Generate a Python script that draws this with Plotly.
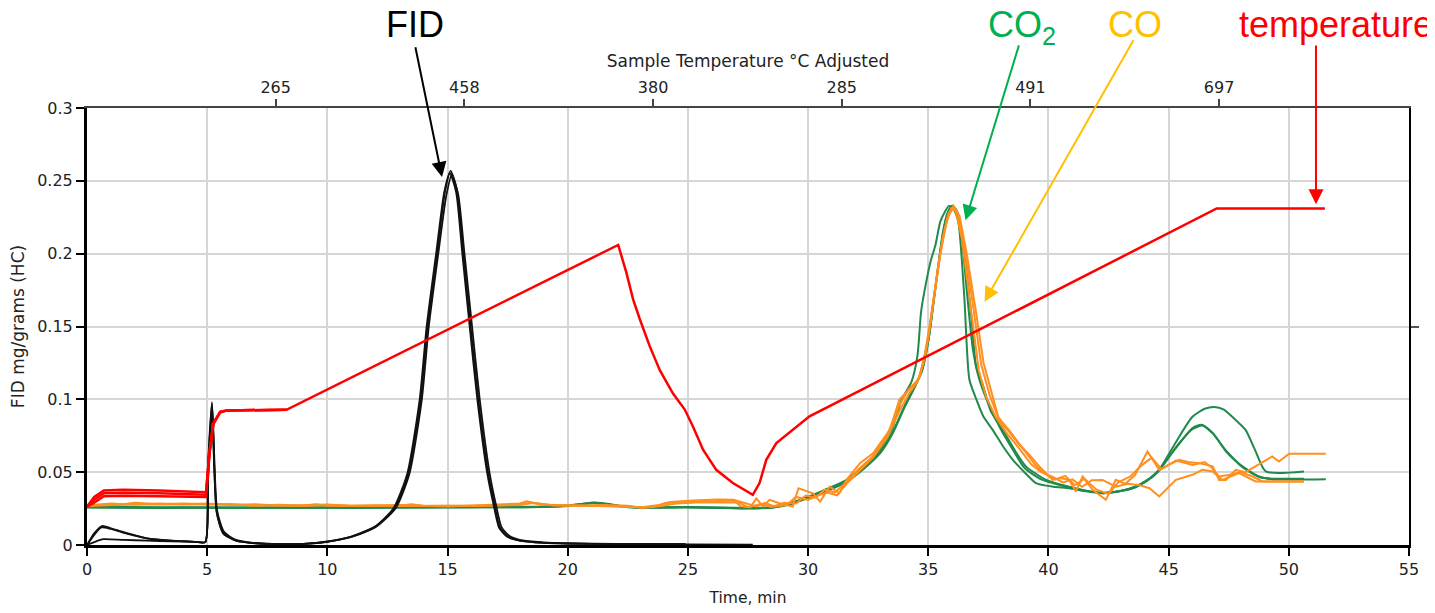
import plotly.graph_objects as go

# ---------------- data ----------------
TOP_TICK_POS = [7.85, 15.7, 23.55, 31.4, 39.25, 47.1]
TOP_TICK_TEXT = ["265", "458", "380", "285", "491", "697"]

# FID (black), three runs: (time, value)
FID_RUN1 = [(0, 0), (0.3, 0.008), (0.62, 0.013), (1.0, 0.0115), (1.5, 0.009), (2.5, 0.0046),
            (3.5, 0.003), (4.5, 0.0022), (4.92, 0.002), (5.03, 0.05), (5.2, 0.098), (5.4, 0.022),
            (5.68, 0.008), (6.2, 0.003), (7, 0.0012), (8, 0.0006), (9, 0.0008), (10, 0.0023),
            (11, 0.0057), (12, 0.0126), (12.8, 0.0254), (13.37, 0.0493), (13.88, 0.0998),
            (14.17, 0.15), (14.57, 0.2007), (14.9, 0.243), (15.13, 0.2569), (15.4, 0.243),
            (15.65, 0.2007), (15.96, 0.15), (16.28, 0.0998), (16.69, 0.0493), (16.97, 0.0264),
            (17.18, 0.012), (17.5, 0.006), (18, 0.003), (19, 0.0015), (20, 0.001), (22, 0.0007),
            (24.9, 0.0005)]
FID_RUN2 = [(0, 0), (0.3, 0.002), (0.68, 0.004), (1.5, 0.0035), (2.5, 0.003), (3.5, 0.0025),
            (4.5, 0.0022), (4.92, 0.002), (5.04, 0.045), (5.21, 0.095), (5.41, 0.024), (5.7, 0.009),
            (6.2, 0.0035), (7, 0.0013), (8, 0.0006), (9, 0.0008), (10, 0.0022), (11, 0.0055),
            (12, 0.0122), (12.85, 0.0254), (13.42, 0.0493), (13.93, 0.0998), (14.22, 0.15),
            (14.62, 0.2007), (14.95, 0.24), (15.18, 0.2545), (15.45, 0.24), (15.7, 0.2007),
            (16.02, 0.15), (16.34, 0.0998), (16.75, 0.0493), (17.03, 0.0264), (17.24, 0.0125),
            (17.55, 0.0065), (18, 0.0035), (19, 0.0018), (20, 0.0012), (22, 0.0008), (25, 0.0004),
            (27.7, 0.0003)]
FID_RUN3 = [(0, 0), (0.3, 0.007), (0.6, 0.012), (1.0, 0.011), (1.5, 0.0085), (2.5, 0.0045),
            (3.5, 0.003), (4.5, 0.0022), (4.92, 0.002), (5.02, 0.05), (5.19, 0.097), (5.39, 0.023),
            (5.66, 0.008), (6.2, 0.003), (7, 0.0012), (8, 0.0006), (9, 0.0008), (10, 0.0024),
            (11, 0.0058), (12, 0.0128), (12.76, 0.0254), (13.33, 0.0493), (13.84, 0.0998),
            (14.13, 0.15), (14.53, 0.2007), (14.86, 0.242), (15.09, 0.2555), (15.36, 0.242),
            (15.61, 0.2007), (15.92, 0.15), (16.24, 0.0998), (16.65, 0.0493), (16.93, 0.0264),
            (17.14, 0.012), (17.45, 0.006), (18, 0.003), (19, 0.0015), (20, 0.001), (22, 0.0007),
            (24.9, 0.0005)]

# CO2 (green), three runs
CO2_RUN1 = [(0, 0.026), (2, 0.0255), (4, 0.0255), (6, 0.0255), (8, 0.0255), (10, 0.0255),
            (12, 0.0255), (14, 0.026), (16, 0.026), (18, 0.026), (19.5, 0.0265), (20.5, 0.028),
            (21.1, 0.0292), (21.8, 0.028), (22.5, 0.026), (23.5, 0.0255), (24.5, 0.026),
            (25.5, 0.026), (26.5, 0.0255), (27.5, 0.025), (28.5, 0.026), (29.3, 0.029),
            (30.2, 0.0344), (31.0, 0.040), (31.6, 0.0447), (32.3, 0.054), (32.98, 0.0654),
            (33.5, 0.08), (33.9, 0.1), (34.3, 0.112), (34.55, 0.13), (34.7, 0.16), (34.85, 0.175),
            (35.1, 0.195), (35.3, 0.206), (35.5, 0.222), (35.7, 0.229), (35.86, 0.2328),
            (36.05, 0.231), (36.25, 0.222), (36.5, 0.17), (36.71, 0.1136), (37.0, 0.1),
            (37.3, 0.088), (37.68, 0.079), (38.1, 0.068), (38.52, 0.0585), (39.0, 0.05),
            (39.48, 0.0425), (40.2, 0.04), (40.86, 0.0389), (41.5, 0.037), (42.25, 0.0356),
            (43.0, 0.037), (43.6, 0.0395), (44.05, 0.0436), (44.6, 0.0516), (45.3, 0.0665),
            (45.99, 0.0803), (46.38, 0.0826), (46.83, 0.0768), (47.38, 0.065), (48.07, 0.054),
            (48.76, 0.047), (49.31, 0.0452), (51.54, 0.0452)]
CO2_RUN2 = [(0, 0.0262), (3, 0.026), (6, 0.0258), (9, 0.0258), (12, 0.026), (15, 0.026),
            (18, 0.0262), (20, 0.027), (21.1, 0.029), (22, 0.0272), (23, 0.026), (25, 0.026),
            (27, 0.0255), (28.5, 0.0258), (29.3, 0.0285), (30.2, 0.0338), (31.0, 0.039),
            (31.6, 0.044), (32.3, 0.053), (33.0, 0.064), (33.5, 0.077), (34.0, 0.095),
            (34.4, 0.108), (34.7, 0.118), (35.0, 0.14), (35.2, 0.165), (35.4, 0.19), (35.6, 0.214),
            (35.8, 0.228), (36.0, 0.233), (36.2, 0.229), (36.4, 0.215), (36.57, 0.19),
            (36.78, 0.1595), (36.99, 0.1227), (37.27, 0.11), (37.6, 0.092), (38.1, 0.079),
            (38.6, 0.065), (39.06, 0.054), (39.9, 0.0447), (40.86, 0.040), (41.5, 0.0375),
            (42.25, 0.0356), (43.0, 0.037), (43.6, 0.040), (44.1, 0.0445), (44.6, 0.0516),
            (45.3, 0.0706), (45.99, 0.088), (46.5, 0.0935), (46.9, 0.0948), (47.3, 0.093),
            (47.65, 0.088), (48.2, 0.079), (48.6, 0.065), (49.04, 0.0505), (50.63, 0.0505)]
CO2_RUN3 = [(0, 0.0258), (3, 0.0256), (6, 0.0256), (9, 0.0256), (12, 0.0258), (15, 0.0258),
            (18, 0.026), (20, 0.0268), (21.1, 0.0288), (22, 0.027), (23, 0.0258), (25, 0.0258),
            (27, 0.0252), (28.5, 0.0256), (29.3, 0.0282), (30.2, 0.0335), (31.0, 0.0385),
            (31.6, 0.0435), (32.3, 0.052), (33.0, 0.063), (33.5, 0.076), (34.0, 0.094),
            (34.4, 0.107), (34.75, 0.12), (35.05, 0.145), (35.25, 0.17), (35.45, 0.195),
            (35.65, 0.217), (35.85, 0.229), (36.0, 0.2325), (36.2, 0.228), (36.4, 0.21),
            (36.6, 0.175), (36.85, 0.135), (37.1, 0.115), (37.5, 0.097), (38.0, 0.08),
            (38.5, 0.066), (39.0, 0.053), (39.7, 0.045), (40.5, 0.041), (41.5, 0.0375),
            (42.25, 0.0358), (43.0, 0.037), (43.6, 0.0398), (44.1, 0.044), (44.6, 0.051),
            (45.3, 0.067), (45.99, 0.0795), (46.4, 0.082), (46.85, 0.0765), (47.4, 0.064),
            (48.1, 0.053), (48.8, 0.0465), (49.3, 0.0455), (50.63, 0.0455)]

# CO (orange), three runs
CO_RUN1 = [(0, 0.027), (0.5, 0.028), (1, 0.0285), (1.5, 0.028), (2, 0.029), (3, 0.028),
           (4, 0.0285), (5, 0.028), (6, 0.028), (7, 0.027), (8, 0.0275), (9, 0.027), (9.5, 0.028),
           (10, 0.027), (11, 0.027), (12, 0.0265), (13, 0.027), (13.5, 0.028), (14, 0.027),
           (15, 0.0265), (16, 0.027), (17, 0.0275), (18, 0.0285), (18.3, 0.030), (18.8, 0.028),
           (19.5, 0.0275), (20.5, 0.027), (21.5, 0.0275), (22.5, 0.027), (23.1, 0.0255),
           (23.6, 0.0262), (24.1, 0.029), (25, 0.030), (26, 0.030), (26.9, 0.0305), (27.2, 0.0265),
           (27.6, 0.026), (27.85, 0.032), (28.12, 0.0264), (28.4, 0.031), (28.8, 0.0287),
           (29.36, 0.0264), (29.6, 0.039), (30.2, 0.0355), (30.5, 0.0298), (30.9, 0.0401),
           (31.3, 0.0355), (31.6, 0.0447), (32.16, 0.0562), (32.7, 0.063), (33.4, 0.079),
           (33.8, 0.0998), (34.1, 0.105), (34.5, 0.112), (34.65, 0.116), (35.0, 0.142),
           (35.3, 0.177), (35.6, 0.211), (35.85, 0.228), (36.05, 0.2328), (36.3, 0.226),
           (36.6, 0.2), (36.99, 0.1595), (37.3, 0.125), (37.68, 0.102), (37.96, 0.085),
           (38.3, 0.079), (38.79, 0.0688), (39.2, 0.062), (39.62, 0.054), (40.17, 0.0447),
           (40.5, 0.046), (40.86, 0.0447), (41.14, 0.0367), (41.42, 0.047), (41.83, 0.038),
           (42.39, 0.031), (42.8, 0.0447), (43.2, 0.042), (43.6, 0.048), (44.12, 0.0642),
           (44.61, 0.0516), (45.0, 0.055), (45.44, 0.0585), (45.8, 0.057), (46.27, 0.0562),
           (46.83, 0.054), (47.1, 0.0447), (47.38, 0.0447), (47.79, 0.0516), (48.2, 0.05),
           (48.62, 0.054), (49.31, 0.0608), (49.59, 0.0573), (50.01, 0.0626), (51.54, 0.0626)]
CO_RUN2 = [(0, 0.0275), (1, 0.028), (2, 0.0278), (3, 0.0285), (4, 0.028), (5, 0.0285),
           (6, 0.0275), (7, 0.028), (8, 0.027), (9, 0.0272), (10, 0.0278), (11, 0.027),
           (12, 0.0272), (13, 0.0268), (14, 0.027), (15, 0.027), (16, 0.0268), (17, 0.027),
           (18, 0.0275), (18.5, 0.0292), (19.2, 0.0275), (20.5, 0.0272), (21.5, 0.0268),
           (22.5, 0.0265), (23.1, 0.026), (23.8, 0.0275), (24.3, 0.0295), (25.2, 0.0305),
           (26.2, 0.0312), (26.9, 0.031), (27.3, 0.029), (27.85, 0.0265), (28.2, 0.029),
           (28.6, 0.0265), (29.1, 0.0275), (29.5, 0.033), (30.0, 0.031), (30.4, 0.034),
           (30.8, 0.036), (31.2, 0.034), (31.6, 0.042), (32.1, 0.05), (32.7, 0.06), (33.3, 0.074),
           (33.8, 0.092), (34.2, 0.104), (34.55, 0.112), (34.8, 0.125), (35.1, 0.155),
           (35.4, 0.19), (35.7, 0.218), (35.95, 0.231), (36.15, 0.229), (36.4, 0.21),
           (36.8, 0.1595), (37.1, 0.12), (37.4, 0.102), (37.8, 0.088), (38.3, 0.076),
           (38.8, 0.066), (39.3, 0.055), (39.7, 0.05), (40.2, 0.0465), (40.6, 0.043),
           (41.0, 0.045), (41.4, 0.04), (41.8, 0.0445), (42.25, 0.0447), (42.8, 0.04),
           (43.3, 0.042), (43.8, 0.041), (44.2, 0.039), (44.61, 0.0333), (45.3, 0.0447),
           (45.99, 0.0482), (46.4, 0.0516), (46.83, 0.0505), (47.24, 0.0447), (47.93, 0.0493),
           (48.62, 0.0436), (49.17, 0.0436), (50.63, 0.0436)]
CO_RUN3 = [(0, 0.0268), (1, 0.0275), (2, 0.028), (3, 0.0278), (4, 0.028), (5, 0.0278),
           (6, 0.028), (7, 0.0272), (8, 0.0276), (9, 0.0268), (10, 0.0274), (11, 0.0268),
           (12, 0.027), (13, 0.0275), (14, 0.0268), (15, 0.0268), (16, 0.027), (17, 0.0272),
           (18, 0.0278), (18.6, 0.0288), (19.4, 0.0272), (20.5, 0.027), (21.5, 0.027),
           (22.5, 0.0262), (23.2, 0.0258), (23.9, 0.0268), (24.5, 0.0285), (25.4, 0.0292),
           (26.4, 0.0295), (27.1, 0.0292), (27.5, 0.026), (28.0, 0.028), (28.5, 0.0262),
           (29.0, 0.029), (29.5, 0.0285), (29.9, 0.034), (30.3, 0.0325), (30.7, 0.038),
           (31.1, 0.036), (31.6, 0.043), (32.1, 0.052), (32.7, 0.061), (33.3, 0.076),
           (33.8, 0.096), (34.15, 0.106), (34.6, 0.114), (34.9, 0.132), (35.2, 0.165),
           (35.5, 0.2), (35.8, 0.225), (36.05, 0.2315), (36.25, 0.227), (36.5, 0.205),
           (36.9, 0.16), (37.2, 0.124), (37.55, 0.103), (37.9, 0.088), (38.4, 0.078),
           (38.9, 0.067), (39.4, 0.056), (39.8, 0.0495), (40.3, 0.045), (40.7, 0.0475),
           (41.1, 0.041), (41.5, 0.0455), (42.0, 0.038), (42.5, 0.035), (42.9, 0.043),
           (43.4, 0.047), (43.9, 0.055), (44.3, 0.06), (44.7, 0.052), (45.3, 0.058),
           (46.0, 0.055), (46.5, 0.057), (46.8, 0.053), (47.1, 0.047), (47.5, 0.048),
           (48.0, 0.05), (48.5, 0.047), (48.9, 0.0436), (50.63, 0.0436)]

# Temperature (red, scaled onto the FID axis), three runs
TEMP_RUN1 = [(0, 0.0264), (0.3, 0.033), (0.7, 0.0375), (1.5, 0.038), (3, 0.0375), (4.5, 0.0365),
             (4.95, 0.0362), (5.1, 0.065), (5.26, 0.0838), (5.54, 0.0915), (5.82, 0.0924),
             (8.3, 0.0928), (22.1, 0.206), (22.44, 0.187), (22.72, 0.1686), (23.0, 0.155),
             (23.41, 0.1365), (23.83, 0.12), (24.38, 0.104), (24.87, 0.093), (25.21, 0.0814),
             (25.63, 0.0654), (26.18, 0.0516), (26.87, 0.0425), (27.7, 0.0344), (27.98, 0.0425),
             (28.26, 0.0585), (28.68, 0.07), (29.37, 0.079), (29.65, 0.0833), (30.06, 0.0883),
             (47.0, 0.231), (51.5, 0.231)]
TEMP_RUN2 = [(0, 0.0264), (0.3, 0.031), (0.7, 0.0355), (1.5, 0.0358), (3, 0.0355), (4.5, 0.0348),
             (4.95, 0.0345), (5.1, 0.064), (5.26, 0.0835), (5.54, 0.0913), (5.82, 0.0924),
             (8.3, 0.0928)]
TEMP_RUN3 = [(0, 0.0264), (0.3, 0.029), (0.7, 0.0335), (1.5, 0.0338), (3, 0.0335), (4.5, 0.033),
             (4.95, 0.033), (5.1, 0.063), (5.26, 0.083), (5.54, 0.091), (5.82, 0.0924),
             (8.3, 0.0928)]

# ---------------- style ----------------
FONT = "DejaVu Sans"
GREEN = "#1f8a4c"
ORANGE = "#ff8f1f"
RED = "#ff0000"
BLACK = "#111111"

fig = go.Figure()


def add(series, color, shape="linear", axes=("x", "y"), width=2):
    xs = [p[0] for p in series]
    ys = [p[1] for p in series]
    fig.add_trace(go.Scatter(x=xs, y=ys, mode="lines", xaxis=axes[0], yaxis=axes[1],
                             line=dict(color=color, width=width, shape=shape,
                                       smoothing=0.6 if shape == "spline" else None),
                             hoverinfo="skip", showlegend=False))


for s in (CO2_RUN1, CO2_RUN2, CO2_RUN3):
    add(s, GREEN, "spline")
for s in (CO_RUN1, CO_RUN2, CO_RUN3):
    add(s, ORANGE)
for s in (FID_RUN1, FID_RUN2, FID_RUN3):
    add(s, BLACK, "spline", width=1.8)
for s in (TEMP_RUN3, TEMP_RUN2, TEMP_RUN1):
    add(s, RED, "linear", ("x2", "y2"), width=2.5)

axis_font = dict(family=FONT, size=16, color="#222")

# the page body adds an 8 px offset, so the figure is 8 px smaller and margins shifted
fig.update_layout(
    width=1427, height=605,
    margin=dict(l=79, r=26, t=100, b=68, autoexpand=False),
    paper_bgcolor="white", plot_bgcolor="white",
    font=dict(family=FONT, size=16, color="#222"),
    showlegend=False,
    hovermode=False,
    xaxis=dict(range=[0, 55], tick0=0, dtick=5, showgrid=True, gridcolor="#d6d6d6", gridwidth=1.5,
               zeroline=False, showline=True, linecolor="black", linewidth=2.5, automargin=False,
               ticks="outside", ticklen=8, tickwidth=2, tickcolor="black", tickfont=axis_font,
               title=dict(text="Time, min", font=dict(family=FONT, size=15.5, color="#222"),
                          standoff=15)),
    yaxis=dict(range=[0, 0.3], tick0=0, dtick=0.05, showgrid=True, gridcolor="#d6d6d6",
               gridwidth=1.5, zeroline=False, showline=True, linecolor="black", linewidth=3,
               automargin=False,
               ticks="outside", ticklen=8, tickwidth=2, tickcolor="black", tickfont=axis_font,
               title=dict(text="FID mg/grams (HC)", font=dict(family=FONT, size=17, color="#222"),
                          standoff=16)),
    xaxis2=dict(overlaying="x", side="top", anchor="y2", range=[0, 55], automargin=False,
                tickvals=TOP_TICK_POS, ticktext=TOP_TICK_TEXT, showgrid=False, zeroline=False,
                showline=True, linecolor="#444", linewidth=2, ticks="outside", ticklen=7,
                tickwidth=2, tickcolor="#444", tickfont=axis_font,
                title=dict(text="Sample Temperature °C Adjusted",
                           font=dict(family=FONT, size=17, color="#222"), standoff=6)),
    yaxis2=dict(overlaying="y", side="right", anchor="x2", range=[0, 0.3], tickvals=[0.15],
                automargin=False,
                showticklabels=False, showgrid=False, zeroline=False, showline=True,
                linecolor="black", linewidth=2, ticks="outside", ticklen=8, tickwidth=2,
                tickcolor="#555"),
)

# ---------------- labels & arrows ----------------
LABEL_FONT = "Liberation Sans"
labels = [
    ("FID", 0.2481, "black", 1.19),
    ("CO<sub>2</sub>", 0.7073, "#00b050", 1.185),
    ("CO", 0.7927, "#ffc000", 1.19),
    ("temperature", 0.9448, RED, 1.19),
]
for text, xp, col, yp in labels:
    fig.add_annotation(text=text, x=xp, y=yp, xref="paper", yref="paper",
                       xanchor="center", yanchor="middle", showarrow=False,
                       font=dict(family=LABEL_FONT, size=36, color=col))

arrows = [
    (14.77, 0.2526, 13.65, 0.3427, "black"),
    (36.55, 0.223, 38.79, 0.344, "#00b050"),
    (37.34, 0.167, 43.57, 0.3475, "#ffc000"),
    (51.13, 0.234, 51.13, 0.344, RED),
]
for x, y, ax, ay, col in arrows:
    fig.add_annotation(text="", x=x, y=y, ax=ax, ay=ay, xref="x", yref="y",
                       axref="x", ayref="y", showarrow=True, arrowhead=2, arrowsize=1.5,
                       arrowwidth=2, arrowcolor=col, standoff=0)

fig.write_html("out.html")
